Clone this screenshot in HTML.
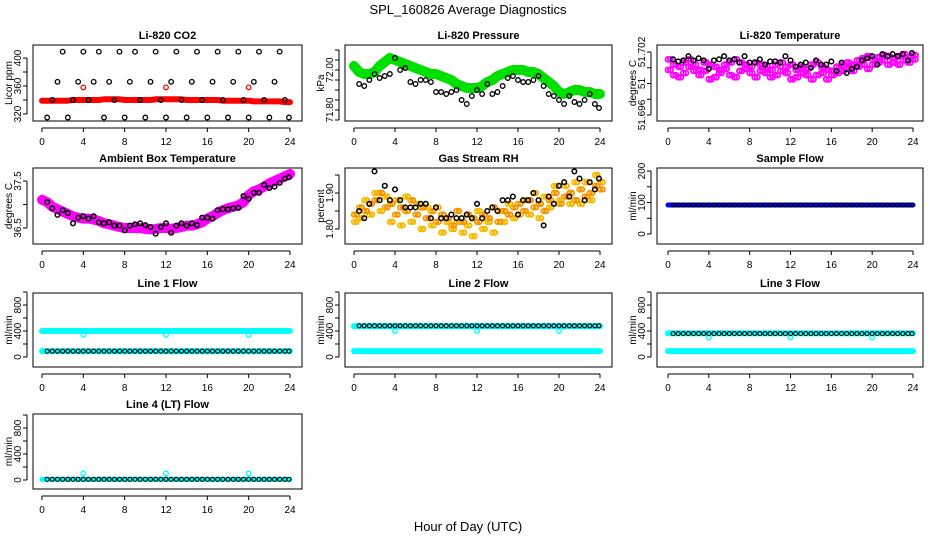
<!DOCTYPE html>
<html><head><meta charset="utf-8"><style>
html,body{margin:0;padding:0;background:#fff;}
svg{display:block;font-family:"Liberation Sans",sans-serif;}
</style></head><body>
<svg id="chart" width="936" height="540" viewBox="0 0 936 540">
<text x="468" y="14" text-anchor="middle" font-size="13">SPL_160826  Average Diagnostics</text>
<text x="468" y="531" text-anchor="middle" font-size="13">Hour of Day (UTC)</text>
</svg>
<script>
// ---- data ----
const xTicks = [0,4,8,12,16,20,24];
const hoursHalf = [0,0.5,1,1.5,2,2.5,3,3.5,4,4.5,5,5.5,6,6.5,7,7.5,8,8.5,9,9.5,10,10.5,11,11.5,12,12.5,13,13.5,14,14.5,15,15.5,16,16.5,17,17.5,18,18.5,19,19.5,20,20.5,21,21.5,22,22.5,23,23.5,24];
const hoursBlack = [0.5,1,1.5,2,2.5,3,3.5,4,4.5,5,5.5,6,6.5,7,7.5,8,8.5,9,9.5,10,10.5,11,11.5,12,12.5,13,13.5,14,14.5,15,15.5,16,16.5,17,17.5,18,18.5,19,19.5,20,20.5,21,21.5,22,22.5,23,23.5,23.9];
const spikeHours = [4,12,20];

const co2Red = [339,339,339,339,339,339,340,340,340,340,340,340,341,341,341,341,340,340,340,340,340,340,341,341,341,341,341,341,340,340,340,340,340,340,340,339,339,339,339,339,339,338,338,338,338,338,338,337,337];
const co2Black = [315,340,366,409,315,340,366,409,340,366,409,315,366,340,409,315,366,409,340,315,366,409,340,315,366,409,340,315,366,409,340,315,366,409,340,315,366,409,340,315,366,409,340,315,366,409,340,315];
const co2Spikes = [358,358,358];

const presGreen = [72.02,71.99,71.98,71.98,71.99,72.02,72.04,72.06,72.05,72.04,72.03,72.02,72.01,72.0,71.99,71.98,71.98,71.97,71.96,71.95,71.93,71.92,71.91,71.91,71.91,71.92,71.94,71.95,71.97,71.98,71.99,72.0,72.0,72.0,71.99,71.99,71.98,71.96,71.94,71.92,71.89,71.88,71.89,71.9,71.9,71.89,71.89,71.88,71.88];
const presBlack = [71.93,71.92,71.95,71.98,71.96,71.97,71.98,72.06,72.0,72.01,71.94,71.93,71.95,71.95,71.94,71.89,71.89,71.88,71.89,71.9,71.85,71.83,71.87,71.9,71.88,71.93,71.88,71.89,71.92,71.96,71.97,71.95,71.94,71.94,71.95,71.97,71.92,71.88,71.87,71.85,71.83,71.87,71.84,71.83,71.85,71.88,71.83,71.81];

const tempPink = [51.7013,51.7008,51.7006,51.7010,51.7013,51.7008,51.7003,51.7010,51.7008,51.7006,51.7003,51.7008,51.7010,51.7013,51.7010,51.7008,51.7006,51.7010,51.7008,51.7006,51.7003,51.7008,51.7010,51.7006,51.7008,51.7003,51.7006,51.7004,51.7008,51.7010,51.7006,51.7003,51.7002,51.7006,51.7008,51.7010,51.7008,51.7012,51.7014,51.7016,51.7013,51.7015,51.7017,51.7016,51.7014,51.7016,51.7018,51.7015,51.7017];
const tempPink2 = [51.7003,51.6998,51.6996,51.7000,51.7006,51.7002,51.6998,51.7002,51.6994,51.6996,51.7000,51.7004,51.6998,51.6996,51.7002,51.7004,51.7000,51.6996,51.7002,51.7000,51.6996,51.6998,51.7002,51.7000,51.6994,51.6996,51.7000,51.6998,51.6994,51.6998,51.7000,51.6994,51.6998,51.7000,51.7002,51.7004,51.7002,51.7006,51.7008,51.7004,51.7008,51.7010,51.7012,51.7008,51.7010,51.7008,51.7012,51.7010,51.7013];
const tempBlack = [51.7013,51.7011,51.7012,51.7016,51.7012,51.7014,51.7012,51.7004,51.7012,51.7013,51.7016,51.7012,51.7013,51.7010,51.7016,51.7010,51.7010,51.7013,51.7008,51.7011,51.7011,51.7010,51.7016,51.7012,51.7006,51.7008,51.7010,51.7005,51.7012,51.7008,51.7008,51.7011,51.7002,51.7010,51.7000,51.7004,51.7006,51.7012,51.7014,51.7016,51.7008,51.7018,51.7016,51.7018,51.7016,51.7018,51.7012,51.7019];

const ambPink = [37.1,37.05,36.95,36.9,36.85,36.8,36.75,36.72,36.7,36.7,36.68,36.65,36.6,36.58,36.55,36.52,36.5,36.5,36.5,36.5,36.48,36.47,36.48,36.5,36.5,36.48,36.5,36.52,36.55,36.55,36.58,36.62,36.7,36.75,36.82,36.88,36.92,36.95,36.98,37.05,37.2,37.28,37.32,37.38,37.45,37.5,37.55,37.6,37.65];
const ambBlack = [37.05,36.92,36.78,36.88,36.82,36.6,36.72,36.75,36.7,36.75,36.62,36.6,36.62,36.55,36.55,36.45,36.55,36.58,36.6,36.56,36.52,36.38,36.52,36.6,36.4,36.55,36.6,36.55,36.6,36.56,36.72,36.72,36.7,36.88,36.9,36.9,36.92,36.93,37.18,37.12,37.25,37.25,37.42,37.35,37.38,37.46,37.55,37.58];

const rhOrange = [1.84,1.86,1.85,1.87,1.88,1.9,1.86,1.87,1.84,1.86,1.85,1.88,1.84,1.86,1.83,1.85,1.82,1.84,1.83,1.81,1.85,1.82,1.84,1.83,1.82,1.84,1.83,1.86,1.82,1.85,1.84,1.86,1.87,1.85,1.88,1.86,1.87,1.85,1.88,1.9,1.87,1.89,1.9,1.88,1.91,1.89,1.9,1.92,1.91];
const rhOrange2 = [1.82,1.83,1.88,1.84,1.9,1.85,1.89,1.82,1.88,1.81,1.89,1.82,1.87,1.8,1.86,1.81,1.86,1.79,1.82,1.8,1.82,1.79,1.81,1.78,1.85,1.8,1.82,1.79,1.85,1.82,1.87,1.83,1.84,1.88,1.84,1.9,1.83,1.89,1.86,1.92,1.88,1.92,1.87,1.93,1.87,1.93,1.88,1.95,1.93];
const rhBlack = [1.85,1.83,1.87,1.96,1.88,1.92,1.88,1.91,1.88,1.86,1.86,1.86,1.87,1.87,1.83,1.86,1.83,1.83,1.84,1.83,1.83,1.84,1.83,1.87,1.83,1.85,1.86,1.85,1.88,1.88,1.89,1.84,1.88,1.88,1.9,1.88,1.81,1.89,1.87,1.92,1.93,1.89,1.96,1.94,1.88,1.93,1.91,1.94];

const sampleFlow = 92, l1Hi = 400, l1Lo = 90, l1Black = 90;
const l2Hi = 475, l2Black = 480, l2Lo = 90;
const l3Hi = 365, l3Black = 360, l3Lo = 90;
const l4Base = 10, l4Spike = 100, flowDip = 340;

// ---- layout ----
const NS = 'http://www.w3.org/2000/svg';
const svg = document.getElementById('chart');
const cols = [{bl:33,br:302,x0:42,x24:290},{bl:345,br:612,x0:354,x24:600},{bl:657,br:923,x0:668,x24:913}];
const rows = [{bt:45,bb:121},{bt:168,bb:244},{bt:293,bb:367},{bt:414,bb:489}];

function mk(tag, attrs, parent){const e=document.createElementNS(NS,tag);for(const k in attrs)e.setAttribute(k,attrs[k]);(parent||svg).appendChild(e);return e;}

function panel(name,title,ci,ri,ylab,ymin,ymax,ypx0,ypx1,ticks,labels){
  const c=cols[ci], r=rows[ri];
  const g=mk('g',{});
  
  
  const xs=v=>c.x0+(v/24)*(c.x24-c.x0);
  const ys=v=>ypx0+(v-ymin)/(ymax-ymin)*(ypx1-ypx0);
  const box=mk('rect',{x:c.bl,y:r.bt,width:c.br-c.bl,height:r.bb-r.bt,fill:'none',stroke:'#000','stroke-width':1},g);
  
  
  const t=mk('text',{x:(c.bl+c.br)/2,y:r.bt-6,'text-anchor':'middle','font-size':11,'font-weight':'bold'},g);
  t.textContent=title;
  
  
  const ay=r.bb+7;
  const xa=mk('g',{},g);
  
  
  mk('line',{x1:xs(0),x2:xs(24),y1:ay,y2:ay,stroke:'#000'},xa);
  xTicks.forEach(v=>{mk('line',{x1:xs(v),x2:xs(v),y1:ay,y2:ay+4,stroke:'#000'},xa);
    const tl=mk('text',{x:xs(v),y:ay+17,'text-anchor':'middle','font-size':10},xa);tl.textContent=v;});
  const ax=c.bl-6;
  const ya=mk('g',{},g);
  
  
  mk('line',{x1:ax,x2:ax,y1:ys(ticks[0]),y2:ys(ticks[ticks.length-1]),stroke:'#000'},ya);
  ticks.forEach((v,i)=>{mk('line',{x1:ax-4,x2:ax,y1:ys(v),y2:ys(v),stroke:'#000'},ya);
    if(labels[i]){const lx=ax-6;const tl=mk('text',{x:lx,y:ys(v),'text-anchor':'middle','font-size':10,transform:`rotate(-90 ${lx} ${ys(v)})`},ya);tl.textContent=labels[i];}});
  const tx=c.bl-21;
  const yl=mk('text',{x:tx,y:(r.bt+r.bb)/2,'text-anchor':'middle','font-size':10,transform:`rotate(-90 ${tx} ${(r.bt+r.bb)/2})`},g);
  yl.textContent=ylab;
  
  
  const cp='clip'+name;
  const cl=mk('clipPath',{id:cp},g);mk('rect',{x:c.bl,y:r.bt,width:c.br-c.bl,height:r.bb-r.bt},cl);
  const pg=mk('g',{'clip-path':`url(#${cp})`},g);
  return {xs,ys,pg};
}
function pts(p,xsArr,vals,color,name,rad,sw){
  const g=mk('g',{},p.pg);
  
  
  xsArr.forEach((x,i)=>{const v=Array.isArray(vals)?vals[i]:vals;
    mk('circle',{cx:p.xs(x),cy:p.ys(v),r:rad||2.3,fill:'none',stroke:color,'stroke-width':sw||1.3},g);});
}
function band(p,xsArr,vals,color,name,w){
  const g=mk('g',{},p.pg);
  
  
  const d=xsArr.map((x,i)=>(i?'L':'M')+p.xs(x)+','+p.ys(Array.isArray(vals)?vals[i]:vals)).join('');
  mk('path',{d:d,fill:'none',stroke:color,'stroke-width':w,'stroke-linejoin':'round','stroke-linecap':'round'},g);
}

let p=panel('co2','Li-820 CO2',0,0,'Licor ppm',320,400,114,58,[320,340,360,380,400],['320','','360','','400']);
band(p,hoursHalf,co2Red,'#f00','co2-red-band',6);
pts(p,spikeHours,co2Spikes,'#f00','co2-red-spikes');
pts(p,hoursBlack,co2Black,'#000','co2-black-points');

p=panel('pressure','Li-820 Pressure',1,0,'kPa',71.8,72.0,110,70,[71.75,71.8,71.85,71.9,71.95,72.0,72.05,72.1],['','71.80','','','','72.00','','']);
band(p,hoursHalf,presGreen,'#00e000','pressure-green-band',10);
pts(p,hoursBlack,presBlack,'#000','pressure-black-points');

p=panel('li-temp','Li-820 Temperature',2,0,'degrees C',51.696,51.702,115,52,[51.696,51.6975,51.699,51.7005,51.702],['51.696','','51','','51.702']);
pts(p,hoursHalf,tempPink,'#f0f','temp-pink-points',2.5,1.8);
pts(p,hoursHalf,tempPink2,'#f0f','temp-pink-points-2',2.5,1.8);
pts(p,hoursHalf.map(h=>h+0.25),tempPink,'#f0f','temp-pink-points-3',2.5,1.8);
pts(p,hoursHalf.map(h=>h+0.25),tempPink2,'#f0f','temp-pink-points-4',2.5,1.8);
pts(p,hoursBlack,tempBlack,'#000','temp-black-points',2.3,1.5);

p=panel('ambient','Ambient Box Temperature',0,1,'degrees C',36.5,37.5,228,181,[36.5,37.0,37.5],['36.5','','37.5']);
band(p,hoursHalf,ambPink,'#f0f','ambient-pink-band',10);
pts(p,hoursBlack,ambBlack,'#000','ambient-black-points',2.3,1.5);

p=panel('rh','Gas Stream RH',1,1,'percent',1.8,1.9,229,193,[1.8,1.85,1.9,1.95],['1.80','','1.90','']);
pts(p,hoursHalf,rhOrange,'#f5a000','rh-orange-points',2.3,1.8);
pts(p,hoursHalf.map(h=>h+0.25),rhOrange2,'#f5b000','rh-orange-points-2',2.3,1.8);
pts(p,hoursHalf,rhOrange2,'#f5c000','rh-orange-points-3',2.3,1.8);
pts(p,hoursHalf.map(h=>h+0.25),rhOrange,'#f59000','rh-orange-points-4',2.3,1.8);
pts(p,hoursBlack,rhBlack,'#000','rh-black-points',2.3,1.5);

p=panel('sample-flow','Sample Flow',2,1,'ml/min',0,200,234,171,[0,50,100,150,200],['0','','100','','200']);
band(p,hoursHalf,sampleFlow,'#00f','sample-flow-blue',5);
pts(p,hoursBlack,sampleFlow,'#000','sample-flow-black',2,1.1);

const fT=[0,200,400,600,800,1000], fL=['0','','400','','800',''];
p=panel('line1','Line 1 Flow',0,2,'ml/min',0,1000,357,292,fT,fL);
band(p,hoursHalf,l1Hi,'#0ff','line1-cyan-high',6);
pts(p,spikeHours,flowDip,'#0ff','line1-cyan-dips');
band(p,hoursHalf,l1Lo,'#0ff','line1-cyan-low',6);
pts(p,hoursBlack,l1Black,'#000','line1-black',2,1.1);
p=panel('line2','Line 2 Flow',1,2,'ml/min',0,1000,357,292,fT,fL);
band(p,hoursHalf,l2Hi,'#0ff','line2-cyan-high',6);
pts(p,spikeHours,400,'#0ff','line2-cyan-dips');
band(p,hoursHalf,l2Lo,'#0ff','line2-cyan-low',6);
pts(p,hoursBlack,l2Black,'#000','line2-black',2,1.1);
p=panel('line3','Line 3 Flow',2,2,'ml/min',0,1000,357,292,fT,fL);
band(p,hoursHalf,l3Hi,'#0ff','line3-cyan-high',6);
pts(p,spikeHours,300,'#0ff','line3-cyan-dips');
band(p,hoursHalf,l3Lo,'#0ff','line3-cyan-low',6);
pts(p,hoursBlack,l3Black,'#000','line3-black',2,1.1);
p=panel('line4','Line 4 (LT) Flow',0,3,'ml/min',0,1000,480,415,fT,fL);
band(p,hoursHalf,l4Base,'#0ff','line4-cyan',5);
pts(p,spikeHours,l4Spike,'#0ff','line4-cyan-spikes');
pts(p,hoursBlack,l4Base,'#000','line4-black',2,1.1);
</script>
</body></html>
